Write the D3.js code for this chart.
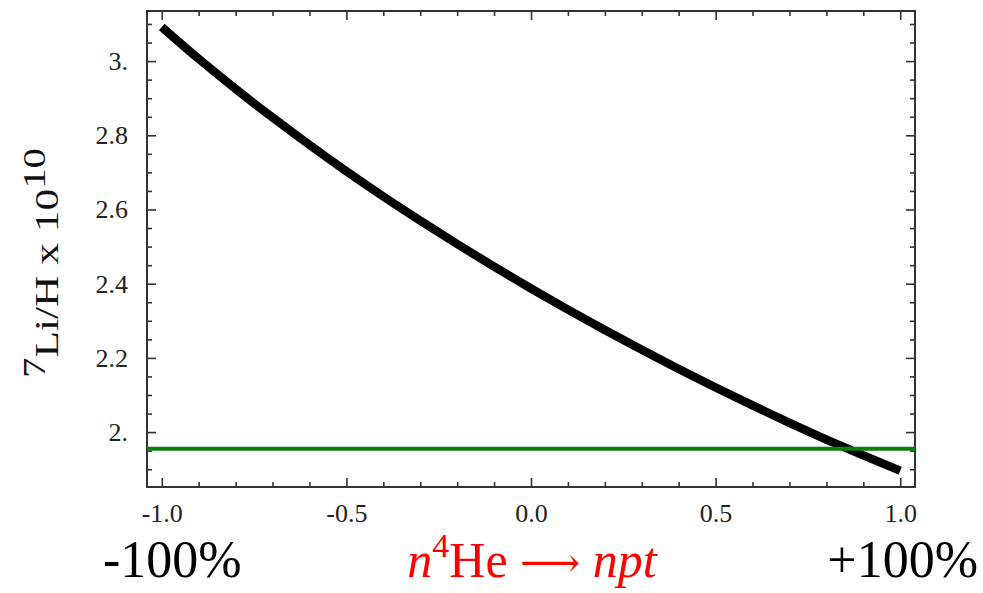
<!DOCTYPE html>
<html>
<head>
<meta charset="utf-8">
<script src="https://cdn.jsdelivr.net/npm/d3@7"></script>
<style>
  html, body { margin: 0; padding: 0; background: #fff; }
  svg { display: block; }
  .tick text { font-family: "Liberation Serif", "Times New Roman", serif; fill: #222; }
</style>
</head>
<body>
<svg id="chart" width="983" height="593"></svg>
<script>
// ---- data ----
const xValues = [-1.0, -0.9, -0.8, -0.7, -0.6, -0.5, -0.4, -0.3, -0.2, -0.1, 0.0,
                 0.1, 0.2, 0.3, 0.4, 0.5, 0.6, 0.7, 0.8, 0.9, 1.0];
const liValues = [3.092, 3.006, 2.925, 2.848, 2.774, 2.703, 2.635, 2.570, 2.507, 2.446, 2.387,
                  2.330, 2.275, 2.222, 2.170, 2.120, 2.072, 2.025, 1.980, 1.937, 1.896];
const observedLi = 1.955;
const xMajorTicks = [-1.0, -0.5, 0.0, 0.5, 1.0];
const xMajorLabels = ["-1.0", "-0.5", "0.0", "0.5", "1.0"];
const xMinorTicks = [-0.9, -0.8, -0.7, -0.6, -0.4, -0.3, -0.2, -0.1, 0.1, 0.2, 0.3, 0.4, 0.6, 0.7, 0.8, 0.9];
const yMajorTicks = [2.0, 2.2, 2.4, 2.6, 2.8, 3.0];
const yMajorLabels = ["2.", "2.2", "2.4", "2.6", "2.8", "3."];
const yMinorTicks = [1.9, 1.95, 2.05, 2.1, 2.15, 2.25, 2.3, 2.35, 2.45, 2.5, 2.55, 2.65, 2.7, 2.75, 2.85, 2.9, 2.95, 3.05, 3.1];

const svg = d3.select("#chart");
const L = 147, R = 915, T = 11, B = 487;

const x = d3.scaleLinear().domain([-1.04, 1.04]).range([L, R]);
const y = d3.scaleLinear().domain([1.852, 3.135]).range([B, T]);

function styleAxis(g) {
  g.select(".domain").remove();
  g.selectAll(".tick line").attr("stroke", "#333").attr("stroke-width", 1.6);
}

// bottom
svg.append("g").attr("transform", `translate(0,${B})`)
  .call(d3.axisBottom(x).tickValues(xMajorTicks).tickSize(-9).tickPadding(17)
        .tickFormat((d, i) => xMajorLabels[i]))
  .call(styleAxis)
  .call(g => g.selectAll("text").attr("font-size", 26));
svg.append("g").attr("transform", `translate(0,${B})`)
  .call(d3.axisBottom(x).tickValues(xMinorTicks).tickSize(-5).tickFormat(""))
  .call(styleAxis);
// top
svg.append("g").attr("transform", `translate(0,${T})`)
  .call(d3.axisTop(x).tickValues(xMajorTicks).tickSize(-9).tickFormat(""))
  .call(styleAxis);
svg.append("g").attr("transform", `translate(0,${T})`)
  .call(d3.axisTop(x).tickValues(xMinorTicks).tickSize(-5).tickFormat(""))
  .call(styleAxis);
// left
svg.append("g").attr("transform", `translate(${L},0)`)
  .call(d3.axisLeft(y).tickValues(yMajorTicks).tickSize(-9).tickPadding(19)
        .tickFormat((d, i) => yMajorLabels[i]))
  .call(styleAxis)
  .call(g => g.selectAll("text").attr("font-size", 26));
svg.append("g").attr("transform", `translate(${L},0)`)
  .call(d3.axisLeft(y).tickValues(yMinorTicks).tickSize(-5).tickFormat(""))
  .call(styleAxis);
// right
svg.append("g").attr("transform", `translate(${R},0)`)
  .call(d3.axisRight(y).tickValues(yMajorTicks).tickSize(-9).tickFormat(""))
  .call(styleAxis);
svg.append("g").attr("transform", `translate(${R},0)`)
  .call(d3.axisRight(y).tickValues(yMinorTicks).tickSize(-5).tickFormat(""))
  .call(styleAxis);

// frame
svg.append("rect").attr("x", L).attr("y", T).attr("width", R - L).attr("height", B - T)
  .attr("fill", "none").attr("stroke", "#333").attr("stroke-width", 2);

// curve
const line = d3.line().x((d, i) => x(xValues[i])).y(d => y(d)).curve(d3.curveMonotoneX);
svg.append("path").datum(liValues).attr("d", line)
  .attr("fill", "none").attr("stroke", "#000").attr("stroke-width", 8.5)
  .attr("stroke-linecap", "butt");

// observed line
svg.append("line").attr("x1", L).attr("x2", R)
  .attr("y1", y(observedLi)).attr("y2", y(observedLi))
  .attr("stroke", "#0a800a").attr("stroke-width", 4);

// y axis label (stretched along its length to match the reference)
const ylg = svg.append("g");
const yl = ylg.append("text")
  .attr("text-anchor", "middle")
  .attr("font-family", "Liberation Serif, Times New Roman, serif")
  .attr("font-size", 34).attr("fill", "#111");
yl.append("tspan").attr("font-size", 32).attr("dy", -13).text("7");
yl.append("tspan").attr("dy", 13).text("Li/H x 10");
yl.append("tspan").attr("font-size", 32).attr("dy", -13).text("10");
const ylw = yl.node().getComputedTextLength();
const stretch = 230 / ylw;
ylg.attr("transform", `translate(58,263) rotate(-90) scale(${stretch},1)`);

// bottom labels
svg.append("text").attr("x", 103).attr("y", 577)
  .attr("font-family", "Liberation Serif, Times New Roman, serif")
  .attr("font-size", 52).attr("fill", "#000").text("-100%");
svg.append("text").attr("x", 978).attr("y", 577).attr("text-anchor", "end")
  .attr("font-family", "Liberation Serif, Times New Roman, serif")
  .attr("font-size", 52).attr("fill", "#000").text("+100%");

const xl = svg.append("text").attr("x", 532).attr("y", 577).attr("text-anchor", "middle")
  .attr("font-family", "Liberation Serif, Times New Roman, serif")
  .attr("font-size", 50).attr("fill", "#ff0000");
xl.append("tspan").attr("font-style", "italic").text("n");
xl.append("tspan").attr("font-size", 34).attr("dy", -20).text("4");
xl.append("tspan").attr("dy", 20).text("He ");
xl.append("tspan").attr("font-family", "DejaVu Serif, DejaVu Sans, serif").attr("font-size", 42).text("\u27F6");
xl.append("tspan").text(" ");
xl.append("tspan").attr("font-style", "italic").text("npt");
</script>
</body>
</html>
